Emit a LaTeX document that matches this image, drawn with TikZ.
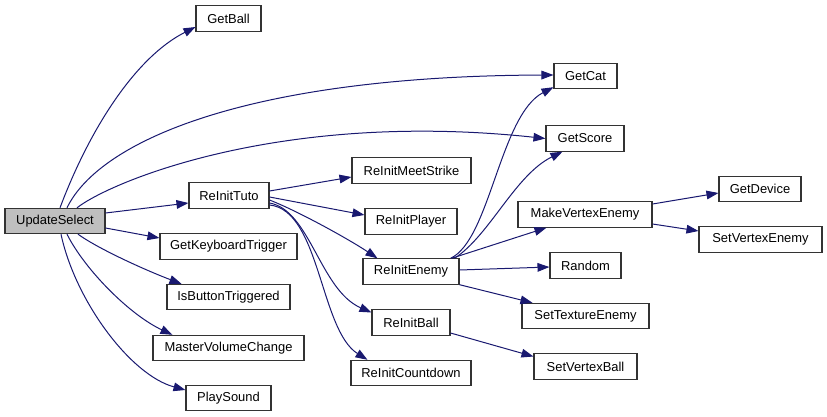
\documentclass[tikz,border=0pt]{standalone}
\usepackage{fontspec}
\setmainfont{Liberation Sans}
\usetikzlibrary{arrows.meta,calc}
\definecolor{edgecol}{HTML}{191970}
\definecolor{selfill}{HTML}{BFBFBF}
\begin{document}
\begin{tikzpicture}[x=0.75pt,y=-0.75pt,
  fn/.style={draw=black!80,line width=0.8pt,fill=white,inner sep=0pt,minimum height=19pt,font=\fontsize{9.7}{11}\selectfont},
  call/.style={draw=edgecol,line width=0.75pt,-{Triangle[length=9pt,width=6.5pt]}}]
\useasboundingbox (0,0) rectangle (827,417);
% column 1
\node[fn,fill=selfill,minimum width=75pt] (us) at (55,221) {UpdateSelect};
% column 2
\node[fn,minimum width=48.75pt] (gb) at (228.5,18.5) {GetBall};
\node[fn,minimum width=60pt] (rt) at (229,195.5) {ReInitTuto};
\node[fn,minimum width=102.75pt] (gkt) at (228.5,246.5) {GetKeyboardTrigger};
\node[fn,minimum width=92.25pt] (ibt) at (228.5,297) {IsButtonTriggered};
\node[fn,minimum width=113.25pt] (mvc) at (228.5,348) {MasterVolumeChange};
\node[fn,minimum width=63.75pt] (ps) at (228.5,398) {PlaySound};
% column 3
\node[fn,minimum width=89.25pt] (rms) at (411.5,170.5) {ReInitMeetStrike};
\node[fn,minimum width=69pt] (rp) at (411,221.5) {ReInitPlayer};
\node[fn,minimum width=72pt] (re) at (411,271.5) {ReInitEnemy};
\node[fn,minimum width=58.5pt] (rb) at (411,322.5) {ReInitBall};
\node[fn,minimum width=90pt] (rc) at (411,373) {ReInitCountdown};
% column 4
\node[fn,minimum width=47.25pt] (gc) at (585.5,76) {GetCat};
\node[fn,minimum width=58.5pt] (gs) at (585,138.5) {GetScore};
\node[fn,minimum width=100.5pt] (mve) at (585,214.5) {MakeVertexEnemy};
\node[fn,minimum width=53.25pt] (rnd) at (585.5,265.5) {Random};
\node[fn,minimum width=95.25pt] (ste) at (585.5,316) {SetTextureEnemy};
\node[fn,minimum width=77.25pt] (svb) at (585.5,366.5) {SetVertexBall};
% column 5
\node[fn,minimum width=61.5pt] (gd) at (760,189) {GetDevice};
\node[fn,minimum width=92.25pt] (sve) at (760.5,239.5) {SetVertexEnemy};

% UpdateSelect calls
\draw[call] ($(us.north)+(5,0)$) .. controls (90,128) and (136,57) .. ($(gb.west)+(0,8.5)$);
\draw[call] ($(us.north)+(12,0)$) .. controls (100,140) and (250,76) .. ($(gc.west)+(0,-1)$);
\draw[call] ($(us.north)+(22,0)$) .. controls (110,182) and (280,110) .. (gs.west);
\draw[call] ($(us.east)+(0,-8)$) -- ($(rt.west)+(0,7.5)$);
\draw[call] ($(us.east)+(0,7)$) -- ($(gkt.west)+(0,-8.5)$);
\draw[call] ($(us.south)+(23,0)$) .. controls (100,250) and (150,272) .. ($(ibt.north west)+(15,0)$);
\draw[call] ($(us.south)+(12,0)$) .. controls (85,270) and (130,315) .. ($(mvc.north west)+(20,0)$);
\draw[call] ($(us.south)+(6,0)$) .. controls (75,300) and (130,375) .. ($(ps.west)+(0,-8)$);

% ReInitTuto calls
\draw[call] ($(rt.east)+(0,-4.5)$) -- ($(rms.west)+(0,6.5)$);
\draw[call] ($(rt.east)+(0,1.5)$) -- ($(rp.west)+(0,-6.5)$);
\draw[call] ($(rt.east)+(0,4.5)$) .. controls (300,212) and (350,240) .. ($(re.north west)+(15,0)$);
\draw[call] ($(rt.east)+(0,7.5)$) .. controls (310,210) and (320,290) .. ($(rb.west)+(0,-10)$);
\draw[call] ($(rt.east)+(0,9.5)$) .. controls (320,210) and (320,330) .. ($(rc.north west)+(17,0)$);

% ReInitEnemy calls
\draw[call] ($(re.north east)+(-9,0)$) .. controls (490,240) and (500,115) .. ($(gc.south west)+(0,-2)$);
\draw[call] ($(re.north east)+(-5,0)$) .. controls (490,235) and (515,175) .. ($(gs.south west)+(17,0)$);
\draw[call] ($(re.north east)+(-8,0)$) -- ($(mve.south west)+(29,0)$);
\draw[call] ($(re.east)+(0,-1.5)$) -- ($(rnd.west)+(0,1.5)$);
\draw[call] (re.south east) -- ($(ste.north west)+(11,0)$);

% ReInitBall call
\draw[call] ($(rb.east)+(0,10.5)$) -- ($(svb.west)+(0,-10)$);

% MakeVertexEnemy calls
\draw[call] ($(mve.east)+(0,-10.5)$) -- ($(gd.west)+(0,4)$);
\draw[call] ($(mve.east)+(0,9.5)$) -- ($(sve.west)+(0,-8.5)$);
\end{tikzpicture}
\end{document}
